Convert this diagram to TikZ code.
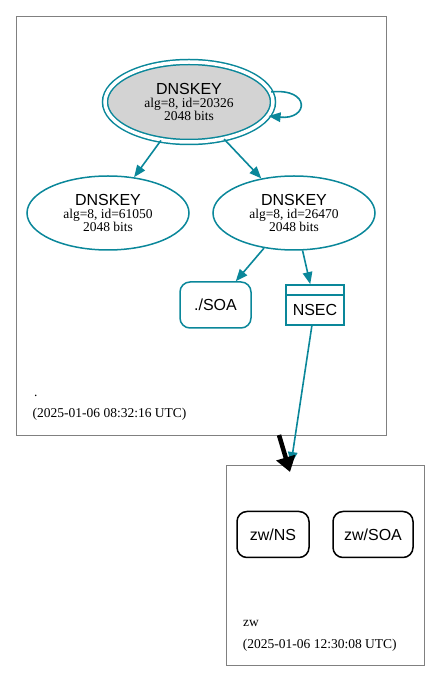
\documentclass[tikz,border=0pt]{standalone}
\usepackage{fontspec}
\setmainfont{Liberation Serif}
\newfontfamily\labelsans{Liberation Sans}
\usetikzlibrary{arrows.meta,shapes.geometric}
\definecolor{keyteal}{HTML}{0A879A}
\definecolor{zonegray}{HTML}{808080}
\definecolor{kskfill}{HTML}{D3D3D3}

\begin{document}
\begin{tikzpicture}[x=1pt,y=1pt,font=\fontsize{13.5}{13.4}\selectfont,
  zonebox/.style={draw=zonegray,line width=0.8pt},
  keynode/.style={ellipse,draw=keyteal,line width=1.5pt,inner sep=0pt,align=center,
    minimum width=162,minimum height=74},
  rrnode/.style={draw,rounded corners=10pt,line width=1.5pt,inner sep=0pt,
    font=\labelsans\fontsize{16}{16}\selectfont,minimum height=46},
  keyedge/.style={draw=keyteal,line width=1.6pt,-{Triangle[length=12pt,width=9.5pt]}},
  zonetext/.style={anchor=base west,inner sep=0pt}]
\useasboundingbox (0,0) rectangle (440,681);
% zones
\draw[zonebox] (16,246) rectangle (386,665);
\draw[zonebox] (226,16) rectangle (424,215.5);
\coordinate (rootbot) at (279,246);
\coordinate (zwarrow) at (290,209);
\coordinate (zwtop) at (291,217);
% root zone
\node[keynode,fill=kskfill,double=white,double distance=3.5pt,minimum width=168,minimum height=80] (ksk) at (189,579)
  {{\labelsans\fontsize{16}{13.4}\selectfont DNSKEY}\\alg=8, id=20326\\2048 bits};
\node[keynode] (zskleft) at (108,468)
  {{\labelsans\fontsize{16}{13.4}\selectfont DNSKEY}\\alg=8, id=61050\\2048 bits};
\node[keynode] (zskright) at (294,468)
  {{\labelsans\fontsize{16}{13.4}\selectfont DNSKEY}\\alg=8, id=26470\\2048 bits};
\node[rrnode,draw=keyteal,minimum width=71] (rootsoa) at (215.5,376) {./SOA};
\node[draw=keyteal,line width=1.8pt,inner sep=0pt,minimum width=58,minimum height=40,
  font=\labelsans\fontsize{16}{16}\selectfont,text height=21.5pt,text depth=0pt] (nsec) at (315,376) {NSEC};
\draw[keyteal,line width=1.8pt] ([yshift=-11]nsec.north west) -- ([yshift=-11]nsec.north east);
\node[zonetext] (rootname) at (34,284.3) {.};
\node[zonetext] (rootdate) at (32.5,263.5) {(2025-01-06 08:32:16 UTC)};
% zw zone
\node[rrnode,minimum width=72] (zwns) at (273,146.5) {zw/NS};
\node[rrnode,minimum width=80] (zwsoa) at (373,146.5) {zw/SOA};
\node[zonetext] (zwname) at (243,54.3) {zw};
\node[zonetext] (zwdate) at (242.7,32.2) {(2025-01-06 12:30:08 UTC)};
% edges
\draw[keyedge] (ksk.7) .. controls +(40,4) and +(40,-4) .. (ksk.-10);
\draw[keyedge] (ksk) -- (zskleft);
\draw[keyedge] (ksk) -- (zskright);
\draw[keyedge] (zskright) -- (rootsoa);
\draw[keyedge] (zskright) -- (nsec);
\draw[keyedge] (nsec) -- (zwtop);
\draw[line width=4.5pt,-{Triangle[length=15pt,width=19pt]}] (rootbot) -- (zwarrow);
\end{tikzpicture}
\end{document}
